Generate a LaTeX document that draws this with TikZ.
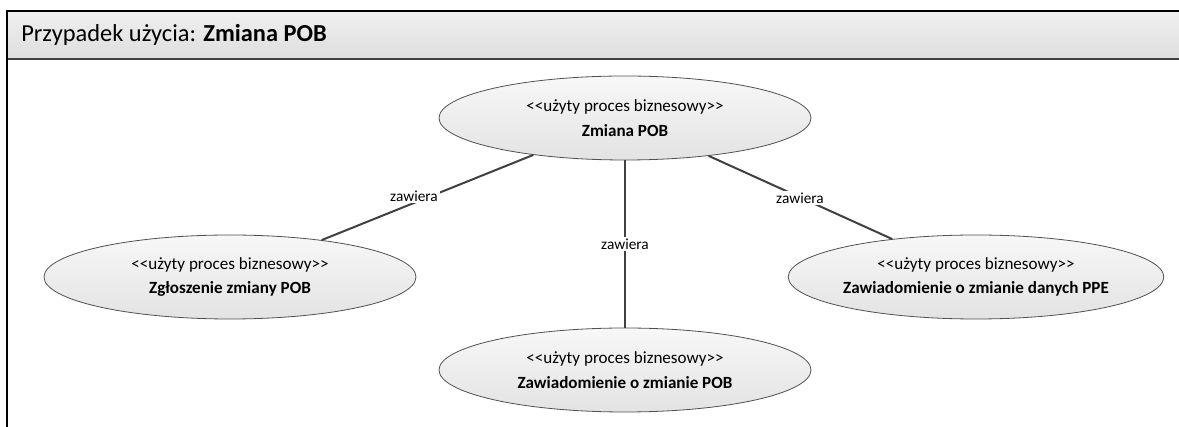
\documentclass[tikz,border=0pt]{standalone}
\usepackage{fontspec}
\setmainfont{Carlito}
\usetikzlibrary{shapes.geometric}
\definecolor{edgegray}{HTML}{404040}
\definecolor{rimgray}{HTML}{505050}
\newcommand{\stereo}{<{}<użyty proces biznesowy>{}>}
\tikzset{
  usecase/.style={ellipse, draw=rimgray, line width=0.6pt, top color=white!97!black, bottom color=white!89!black,
    minimum width=279pt, minimum height=63pt, inner sep=0pt, align=center, font=\fontsize{12.8}{18.5}\selectfont},
  conn/.style={draw=edgegray, line width=1.5pt},
  lbl/.style={fill=white, inner sep=1.5pt, font=\fontsize{11.5}{13}\selectfont}
}
\begin{document}
\begin{tikzpicture}[x=0.75pt,y=-0.75pt]
\useasboundingbox (0,0) rectangle (1179,427);
% header band
\shade[top color=white!94!black, bottom color=white!87!black] (7,11) rectangle (1179,59);
\draw[edgegray, line width=1.3pt] (7,59) -- (1179,59);
\draw[black, line width=1.5pt] (7,427) -- (7,11) -- (1179,11);
\node[anchor=base west, inner sep=0pt, font=\fontsize{18.3}{22}\selectfont] (title) at (21,42) {Przypadek użycia: \textbf{Zmiana POB}};
% use cases
\node[usecase] (top) at (625,118) {\stereo\\\textbf{Zmiana POB}};
\node[usecase] (left) at (230,277) {\stereo\\\textbf{Zgłoszenie zmiany POB}};
\node[usecase] (right) at (976,277) {\stereo\\\textbf{Zawiadomienie o zmianie danych PPE}};
\node[usecase] (bottom) at (625,370) {\stereo\\\textbf{Zawiadomienie o zmianie POB}};
% connectors
\draw[conn] (top) -- (left);
\draw[conn] (top) -- (bottom);
\draw[conn] (top) -- (right);
\node[lbl] (l1) at (414,196) {zawiera};
\node[lbl] (l2) at (625,244) {zawiera};
\node[lbl] (l3) at (800,198) {zawiera};
\end{tikzpicture}
\end{document}
